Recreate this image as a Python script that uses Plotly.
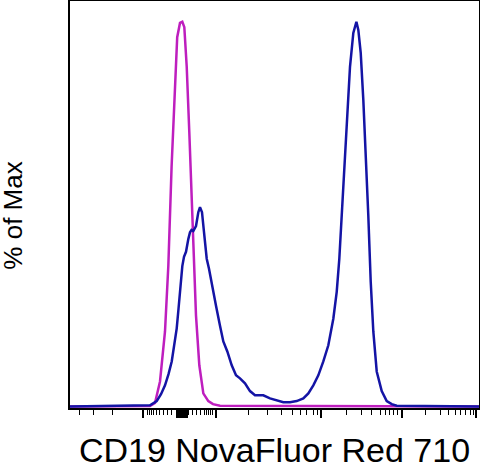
import plotly.graph_objects as go

# display channels (logicle-like axis, 0..1022.5) and % of max
magenta_x = [0, 200, 212.5, 225, 237.5, 245.8, 254, 262.5, 268, 275, 280.8, 285.8,
             291.8, 298.3, 304, 308.3, 315, 323.3, 333.3, 345.8, 357.5, 375, 1022.5]
magenta_y = [0, 0.1, 0.9, 6.5, 19.5, 36.5, 62.4, 84.1, 96.0, 99.7, 100, 98.6,
             88.3, 71.2, 53.9, 40.9, 23.6, 10.7, 3.4, 1.4, 0.6, 0.2, 0]

blue_x = [0, 187.5, 200, 216.8, 227.5, 237.5, 246.3, 254.3, 261.3, 266.8, 271.3, 275,
          280.8, 285, 290, 295.8, 300, 303.8, 308.3, 315, 320.8, 325, 330, 335,
          341.8, 347.5, 354.3, 365, 375, 383.3, 393.3, 404.3, 415, 425, 437.5, 450,
          462.5, 483.3, 500, 516.8, 533.3, 550, 566.8, 583.3, 595.8, 608.3, 620.8,
          633.3, 645.8, 658.3, 666.8, 673.3, 679.3, 685, 691.8, 700, 708.3, 716,
          720.8, 726.8, 733.3, 739.3, 745.8, 751.8, 758.3, 766.8, 779.3, 791.8,
          804.3, 816.8, 1022.5]
blue_y = [0, 0.1, 0.3, 1.4, 3.2, 5.5, 8.4, 11.7, 15.9, 20.3, 25.4, 29.8,
          36.5, 38.9, 40.2, 43.5, 45.3, 45.9, 45.6, 46.9, 50.5, 51.8, 50.5, 45.3,
          38.4, 35.8, 32.4, 26.2, 21.0, 16.9, 14.3, 10.7, 8.1, 7.3, 6.0, 4.0,
          2.9, 2.9, 2.1, 1.6, 1.1, 1.1, 1.4, 2.1, 3.4, 5.5, 8.1,
          11.7, 15.9, 22.8, 29.8, 38.4, 49.5, 62.4, 75.4, 88.3, 97.1, 100,
          97.9, 91.9, 79.7, 66.8, 49.5, 32.4, 19.5, 9.1, 4.0, 1.4,
          0.6, 0.2, 0]

# tick positions on the display scale
major_ticks = [183.3, 366, 627.5, 829, 1016] + [266.8 + 1.25 * i for i in range(21)]
minor_ticks = [22.5, 59.3, 106.8,
               193.3, 198.3, 203.3, 208.3, 215, 223.3, 233.3, 243.3, 254.3,
               295.8, 305.8, 316.8, 326.8, 335, 341.8, 346.8, 351.8, 356.8,
               445.8, 494.3, 529.3, 555.8, 575, 591.8, 608.3, 618.8,
               691.8, 729.3, 754.3, 775, 787.5, 797.5, 808.3, 818.8,
               887.5, 925, 945, 962.5, 976.8, 987.5, 1000, 1008.8]

fig = go.Figure()
fig.add_trace(go.Scatter(x=magenta_x, y=magenta_y, mode='lines',
                         line=dict(color='rgb(190,30,190)', width=2.5)))
fig.add_trace(go.Scatter(x=blue_x, y=blue_y, mode='lines',
                         line=dict(color='rgb(20,20,165)', width=2.5)))

fig.update_layout(
    width=480, height=469,
    margin=dict(l=70, r=1, t=1, b=61),
    plot_bgcolor='white', paper_bgcolor='white',
    showlegend=False,
    font=dict(family='Liberation Sans, Arial', size=28, color='black'),
)
fig.update_xaxes(
    range=[0, 1022.5], showgrid=False, zeroline=False, automargin=False,
    showline=True, mirror=True, linecolor='black', linewidth=2,
    layer='below traces',
    tickmode='array', tickvals=major_ticks, showticklabels=False,
    ticks='outside', ticklen=8, tickwidth=2, tickcolor='black',
    minor=dict(tickmode='array', tickvals=minor_ticks, ticks='outside',
               ticklen=5, tickwidth=1, tickcolor='black'),
    title=dict(text='CD19 NovaFluor Red 710', standoff=30),
)
fig.update_yaxes(
    range=[-0.4, 105.4], showgrid=False, zeroline=False, automargin=False,
    showline=True, mirror=True, linecolor='black', linewidth=2,
    layer='below traces',
    ticks='', showticklabels=False,
)
# y title as a rotated annotation so it can sit a little below centre
fig.add_annotation(text='% of Max', textangle=-90, showarrow=False,
                   xref='paper', yref='paper', x=-0.14, y=0.472,
                   xanchor='center', yanchor='middle', font=dict(size=26))

# drop the browser's default 8px page margin
fig.write_html("out.html", config={'displayModeBar': False},
               post_script="document.body.style.margin='0';")
